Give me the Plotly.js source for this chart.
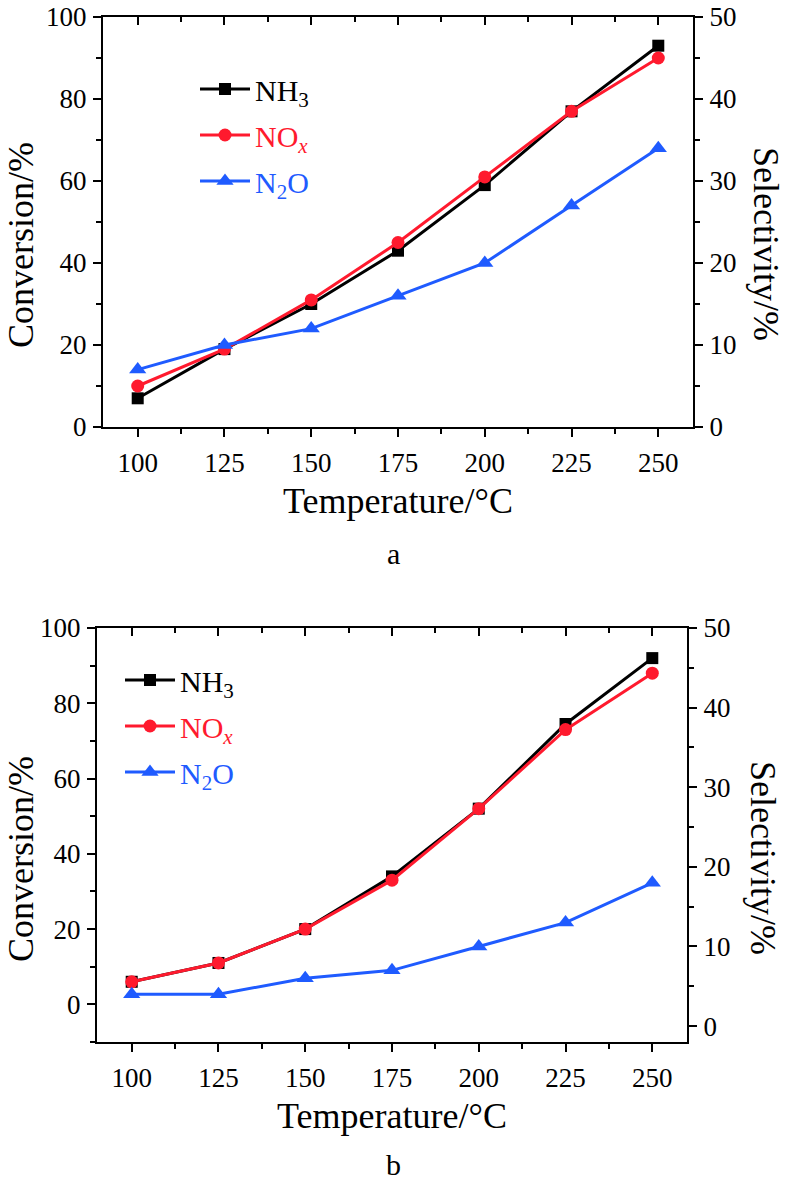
<!DOCTYPE html>
<html>
<head>
<meta charset="utf-8">
<script src="https://cdn.plot.ly/plotly-3.0.1.min.js"></script>
<style>html,body{margin:0;padding:0;background:#fff;}#chart{width:789px;height:1180px;}</style>
</head>
<body>
<div id="chart"></div>
<script>
// ---- data ----
const temperature = [100, 125, 150, 175, 200, 225, 250];
// panel a
const a_nh3_conv = [7, 19, 30, 43, 59, 77, 93];
const a_nox_conv = [10, 19, 31, 45, 61, 77, 90];
const a_n2o_sel  = [7, 10, 12, 16, 20, 27, 34];
// panel b
const b_nh3_conv = [6, 11, 20, 34, 52, 74.5, 92];
const b_nox_conv = [6, 11, 20, 33, 52, 73, 88];
const b_n2o_sel  = [4, 4, 6, 7, 10, 13, 18];
const xTickVals = [100, 125, 150, 175, 200, 225, 250];
const panelLabels = ['a', 'b'];
const xTitle = 'Temperature/°C';
const yLeftTitle = 'Conversion/%';
const yRightTitle = 'Selectivity/%';
const seriesNames = [
  '<span style="color:#000000">NH<sub>3</sub></span>',
  '<span style="color:#ff1a2e">NO<sub><i>x</i></sub></span>',
  '<span style="color:#1f5bff">N<sub>2</sub>O</span>'
];

const BLACK = '#000000', RED = '#ff1a2e', BLUE = '#1f5bff';
const FONT = 'Liberation Serif, Times New Roman, serif';
const LW = 3;

function tr(x, y, xa, ya, color, sym, size, name, legend, grp) {
  return {
    x: x, y: y, xaxis: xa, yaxis: ya, type: 'scatter', mode: 'lines+markers',
    name: name, legend: legend, legendgroup: grp,
    line: {color: color, width: LW},
    marker: {color: color, symbol: sym, size: size},
    hoverinfo: 'skip'
  };
}

const data = [
  tr(temperature, a_nh3_conv, 'x', 'y', BLACK, 'square', 12, seriesNames[0], 'legend', 'a1'),
  tr(temperature, a_nox_conv, 'x', 'y', RED, 'circle', 13, seriesNames[1], 'legend', 'a2'),
  tr(temperature, a_n2o_sel, 'x', 'y2', BLUE, 'triangle-up', 15, seriesNames[2], 'legend', 'a3'),
  tr(temperature, b_nh3_conv, 'x2', 'y3', BLACK, 'square', 12, seriesNames[0], 'legend2', 'b1'),
  tr(temperature, b_nox_conv, 'x2', 'y3', RED, 'circle', 13, seriesNames[1], 'legend2', 'b2'),
  tr(temperature, b_n2o_sel, 'x2', 'y4', BLUE, 'triangle-up', 15, seriesNames[2], 'legend2', 'b3'),
  // placeholders so the top mirror axes are drawn
  {x: [null], y: [null], xaxis: 'x3', yaxis: 'y', showlegend: false, hoverinfo: 'skip', mode: 'markers'},
  {x: [null], y: [null], xaxis: 'x4', yaxis: 'y3', showlegend: false, hoverinfo: 'skip', mode: 'markers'}
];

const tickFont = {family: FONT, size: 27, color: '#000'};
const titleFont = {family: FONT, size: 36, color: '#000'};

function xAxis(domain, anchor, title) {
  return {
    domain: domain, anchor: anchor, range: [90, 260],
    tickvals: xTickVals, ticks: 'outside', ticklen: 8, tickwidth: 2, tickcolor: '#000',
    minor: {dtick: 12.5, tick0: 100, ticks: 'outside', ticklen: 5, tickwidth: 2, tickcolor: '#000'},
    showline: true, linewidth: 2, linecolor: '#000', showgrid: false, zeroline: false,
    tickfont: tickFont, ticklabelstandoff: 3, ticklabeloverflow: 'allow',
    title: {text: title, font: titleFont, standoff: 10}
  };
}
function topAxis(overlay, anchor) {
  return {
    overlaying: overlay, anchor: anchor, side: 'top', range: [90, 260],
    tickvals: xTickVals, ticks: 'inside', ticklen: 8, tickwidth: 2, tickcolor: '#000',
    minor: {dtick: 12.5, tick0: 100, ticks: 'inside', ticklen: 5, tickwidth: 2, tickcolor: '#000'},
    showline: true, linewidth: 2, linecolor: '#000', showgrid: false, zeroline: false,
    showticklabels: false
  };
}
function yAxis(domain, anchor, range, dtick, mdtick, side, overlay) {
  const ax = {
    domain: domain, anchor: anchor, range: range, side: side,
    tick0: 0, dtick: dtick, ticks: 'outside', ticklen: 8, tickwidth: 2, tickcolor: '#000',
    minor: {dtick: mdtick, tick0: 0, ticks: 'outside', ticklen: 5, tickwidth: 2, tickcolor: '#000'},
    showline: true, linewidth: 2, linecolor: '#000', showgrid: false, zeroline: false,
    tickfont: tickFont, ticklabeloverflow: 'allow', ticklabelstandoff: 1
  };
  if (overlay) { ax.overlaying = overlay; delete ax.domain; }
  return ax;
}

const xdA = [103/789, 693/789], ydA = [(1180-427)/1180, (1180-17)/1180];
const xdB = [97/789, 687/789],  ydB = [(1180-1042)/1180, (1180-628)/1180];

const legendCommon = {
  font: {family: FONT, size: 30, color: '#000'},
  bgcolor: 'rgba(0,0,0,0)', borderwidth: 0, itemwidth: 50,
  xanchor: 'left', yanchor: 'top', tracegroupgap: 4, itemclick: false, itemdoubleclick: false
};

function ann(px, py, text, size, angle) {
  return {xref: 'paper', yref: 'paper', x: px/789, y: 1 - py/1180, text: text, showarrow: false,
    font: {family: FONT, size: size, color: '#000'}, xanchor: 'center', yanchor: 'middle',
    textangle: angle || 0};
}

const layout = {
  width: 789, height: 1180,
  margin: {l: 0, r: 0, t: 0, b: 0},
  paper_bgcolor: '#fff', plot_bgcolor: 'rgba(0,0,0,0)',
  showlegend: true,
  font: {family: FONT, color: '#000'},
  xaxis: xAxis(xdA, 'y', xTitle),
  yaxis: yAxis(ydA, 'x', [0, 100], 20, 10, 'left'),
  yaxis2: yAxis(ydA, 'x', [0, 50], 10, 5, 'right', 'y'),
  xaxis2: xAxis(xdB, 'y3', xTitle),
  yaxis3: yAxis(ydB, 'x2', [-10, 100], 20, 10, 'left'),
  yaxis4: yAxis(ydB, 'x2', [-2, 50], 10, 5, 'right', 'y3'),
  xaxis3: topAxis('x', 'y'),
  xaxis4: topAxis('x2', 'y3'),
  legend: Object.assign({}, legendCommon, {x: 195/789, y: 1 - 63/1180}),
  legend2: Object.assign({}, legendCommon, {x: 120/789, y: 1 - 654/1180}),
  annotations: [
    ann(393, 553, panelLabels[0], 30),
    ann(393, 1164, panelLabels[1], 30),
    ann(21, 245, yLeftTitle, 36, -90),
    ann(766, 244, yRightTitle, 36, 90),
    ann(21, 859, yLeftTitle, 36, -90),
    ann(763, 858, yRightTitle, 36, 90)
  ]
};

Plotly.newPlot('chart', data, layout, {displayModeBar: false, staticPlot: true});
</script>
</body>
</html>
